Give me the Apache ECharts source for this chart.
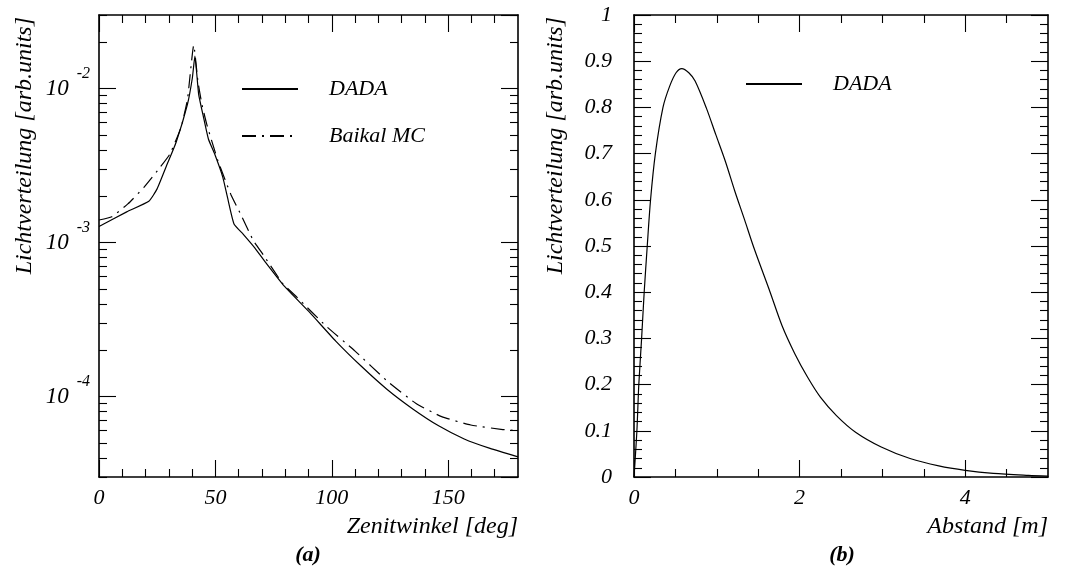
<!DOCTYPE html>
<html><head><meta charset="utf-8">
<script src="https://cdn.jsdelivr.net/npm/echarts@6/dist/echarts.min.js"></script>
<style>html,body{margin:0;padding:0;background:#fff}#c{width:1074px;height:570px}</style>
</head><body><div id="c"></div>
<script>
// ---------- Panel (a): Zenitwinkel [deg] vs Lichtverteilung (log) ----------
const dadaZenit = [
  [0, 1.27e-3], [11.9, 1.58e-3], [21.4, 1.85e-3], [24.9, 2.22e-3], [29.0, 3.15e-3],
  [33.1, 4.46e-3], [38.0, 7.9e-3], [40.1, 1.17e-2], [41.2, 1.62e-2], [42.8, 9.2e-3],
  [44.9, 6.5e-3], [47.0, 4.7e-3], [49.7, 3.75e-3], [53.2, 2.65e-3], [55.2, 1.96e-3],
  [58.0, 1.32e-3], [62.0, 1.13e-3], [67.0, 9.2e-4], [71.3, 7.5e-4], [79.6, 5.2e-4],
  [90.6, 3.5e-4], [101.7, 2.29e-4], [112.7, 1.57e-4], [123.8, 1.11e-4], [134.8, 8.3e-5],
  [145.9, 6.45e-5], [156.9, 5.3e-5], [168.0, 4.6e-5], [180.0, 4.05e-5]
];
const baikalZenit = [
  [0, 1.40e-3], [5.5, 1.47e-3], [12.4, 1.78e-3], [19.3, 2.28e-3], [26.2, 3.07e-3],
  [30.4, 3.74e-3], [35.2, 5.57e-3], [38.0, 8.5e-3], [40.7, 1.91e-2], [42.5, 1.11e-2],
  [44.2, 7.9e-3], [46.3, 5.85e-3], [51.1, 3.39e-3], [56.6, 2.06e-3], [60.8, 1.53e-3],
  [66.3, 1.03e-3], [70.6, 8.3e-4], [79.0, 5.4e-4], [85.1, 4.4e-4], [97.5, 2.87e-4],
  [110.0, 1.97e-4], [123.8, 1.26e-4], [136.2, 9.0e-5], [147.2, 7.4e-5], [159.7, 6.53e-5],
  [173.5, 6.1e-5], [180.0, 6.0e-5]
];
const zenitRange = [0, 180];
const zenitLabels = [0, 50, 100, 150];
const zenitMajor = [0, 50, 100, 150];
const zenitMinor = [10, 20, 30, 40, 60, 70, 80, 90, 110, 120, 130, 140, 160, 170];
const lichtARange = [3e-5, 3e-2];
const lichtAMantissas = [2, 3, 4, 5, 6, 7, 8, 9];
const lichtADecades = [-5, -4, -3, -2];

// ---------- Panel (b): Abstand [m] vs Lichtverteilung (linear) ----------
const dadaAbstand = [
  [0, 0], [0.035, 0.1], [0.058, 0.2], [0.092, 0.3], [0.123, 0.4], [0.16, 0.5],
  [0.2, 0.6], [0.258, 0.7], [0.35, 0.8], [0.431, 0.846], [0.508, 0.875], [0.577, 0.884],
  [0.662, 0.875], [0.738, 0.857], [0.873, 0.799], [0.988, 0.741], [1.104, 0.683],
  [1.219, 0.618], [1.335, 0.557], [1.45, 0.495], [1.642, 0.401], [1.787, 0.328],
  [1.942, 0.267], [2.097, 0.216], [2.251, 0.173], [2.445, 0.133], [2.676, 0.097],
  [2.986, 0.065], [3.334, 0.040], [3.681, 0.024], [4.0, 0.0144], [4.339, 0.0079],
  [4.764, 0.0036], [5.0, 0.002]
];
const abstandRange = [0, 5];
const abstandLabels = [0, 2, 4];
const abstandMajor = [0, 2, 4];
const abstandMinor = [0.5, 1, 1.5, 2.5, 3, 3.5, 4.5];
const lichtBRange = [0, 1];
const lichtBLabels = [0, 0.1, 0.2, 0.3, 0.4, 0.5, 0.6, 0.7, 0.8, 0.9, 1];
const lichtBMinorStep = 0.02;

const seriesNames = ['DADA', 'Baikal MC'];
const yName = 'Lichtverteilung [arb.units]';
const xNames = ['Zenitwinkel [deg]', 'Abstand [m]'];
const panelTitles = ['(a)', '(b)'];

// ---------- styling helpers ----------
const F = 'Liberation Serif';
const lab = { fontFamily: F, fontStyle: 'italic', fontSize: 22, color: '#000' };
const nameLab = { ...lab, fontSize: 24 };
const AX = '#000';
const line = (show) => ({ show, onZero: false, lineStyle: { color: AX, width: 1.6 } });
const ticks = (vals, len) => ({ show: true, inside: true, length: len, customValues: vals, lineStyle: { color: AX, width: 1.1 } });
const noLab = { show: false };

function xSet(g, range, major, minor, labels, name) {
  const base = { type: 'value', gridIndex: g, min: range[0], max: range[1], splitLine: { show: false } };
  return [
    { ...base, position: 'bottom', axisLine: line(true), axisTick: ticks(major, 17),
      axisLabel: { ...lab, show: true, customValues: labels, margin: 10 } },
    { ...base, position: 'bottom', axisLine: line(false), axisTick: ticks(minor, 8), axisLabel: noLab },
    { ...base, position: 'top', axisLine: line(true), axisTick: ticks(major, 17), axisLabel: noLab },
    { ...base, position: 'top', axisLine: line(false), axisTick: ticks(minor, 8), axisLabel: noLab },
    { ...base, position: 'bottom', offset: 50, axisLine: line(false), axisTick: { show: false }, axisLabel: noLab,
      name, nameLocation: 'end', nameGap: 0, nameMoveOverlap: false,
      nameTextStyle: { ...nameLab, align: 'right', verticalAlign: 'middle' } }
  ];
}

function nameAxis(g, offset) {
  return { type: 'value', gridIndex: g, position: 'left', offset, min: 0, max: 1,
    axisLine: line(false), axisTick: { show: false }, axisLabel: noLab, splitLine: { show: false },
    name: yName, nameLocation: 'end', nameRotate: 90, nameGap: -2, nameMoveOverlap: false,
    nameTextStyle: { ...nameLab, align: 'right', verticalAlign: 'middle' } };
}

// log-axis minor ticks (positions in log10 space on helper value axes)
const logMinor = [];
lichtADecades.forEach(e => lichtAMantissas.forEach(m => {
  const v = m * Math.pow(10, e);
  if (v > lichtARange[0] * 0.999 && v < lichtARange[1] * 1.001) logMinor.push(Math.log10(v));
}));
const lmin = Math.log10(lichtARange[0]), lmax = Math.log10(lichtARange[1]);

const logBase = { type: 'log', logBase: 10, gridIndex: 0, min: lichtARange[0], max: lichtARange[1], splitLine: { show: false } };
const linBase = { type: 'value', gridIndex: 0, min: lmin, max: lmax, splitLine: { show: false } };
const majorTickLog = { show: true, inside: true, length: 17, lineStyle: { color: AX, width: 1.1 } };
const supFmt = (v) => {
  const l = Math.log10(v), e = Math.round(l);
  if (Math.abs(l - e) > 0.01) return '';
  return '{b|10}{s|' + e + '}';
};
const yA = [
  { ...logBase, position: 'left', axisLine: line(true), axisTick: majorTickLog,
    axisLabel: { show: true, showMinLabel: false, showMaxLabel: false, margin: 9, formatter: supFmt,
      rich: {
        b: { fontFamily: F, fontStyle: 'italic', fontSize: 23, color: '#000', verticalAlign: 'middle' },
        s: { fontFamily: F, fontStyle: 'italic', fontSize: 16, color: '#000', verticalAlign: 'top', padding: [0, 0, 30, 8] }
      } } },
  { ...linBase, position: 'left', axisLine: line(false), axisTick: ticks(logMinor, 8), axisLabel: noLab },
  { ...logBase, position: 'right', axisLine: line(true), axisTick: majorTickLog, axisLabel: noLab },
  { ...linBase, position: 'right', axisLine: line(false), axisTick: ticks(logMinor, 8), axisLabel: noLab },
  nameAxis(0, 74)
];

const bMinor = [];
for (let i = 1; i * lichtBMinorStep < 1; i++) if (i % 5) bMinor.push(+(i * lichtBMinorStep).toFixed(2));
const linB = { type: 'value', gridIndex: 1, min: lichtBRange[0], max: lichtBRange[1], splitLine: { show: false } };
const yB = [
  { ...linB, position: 'left', axisLine: line(true), axisTick: ticks(lichtBLabels, 17),
    axisLabel: { ...lab, show: true, customValues: lichtBLabels, margin: 22 } },
  { ...linB, position: 'left', axisLine: line(false), axisTick: ticks(bMinor, 8), axisLabel: noLab },
  { ...linB, position: 'right', axisLine: line(true), axisTick: ticks(lichtBLabels, 17), axisLabel: noLab },
  { ...linB, position: 'right', axisLine: line(false), axisTick: ticks(bMinor, 8), axisLabel: noLab },
  nameAxis(1, 78)
];

const lineSeries = (name, data, xi, yi, type, smooth) => ({
  type: 'line', name, data, xAxisIndex: xi, yAxisIndex: yi, symbol: 'none', showSymbol: false,
  smooth, animation: false,
  lineStyle: { color: '#000', width: 1.2, type }, itemStyle: { color: '#000' }
});

const legendBase = {
  orient: 'vertical', itemWidth: 56, itemHeight: 14, itemGap: 25, selectedMode: false,
  padding: 0, textStyle: { ...lab, padding: [0, 0, 0, 26] },
  itemStyle: { opacity: 0, color: 'rgba(0,0,0,0)', borderWidth: 0 }
};

const option = {
  backgroundColor: '#fff',
  animation: false,
  textStyle: { fontFamily: F },
  grid: [
    { left: 99, top: 15, width: 419, height: 462, outerBoundsMode: 'none', containLabel: false },
    { left: 634, top: 15, width: 414, height: 462, outerBoundsMode: 'none', containLabel: false }
  ],
  title: [
    { text: panelTitles[0], left: 308, top: 544, textAlign: 'center', padding: 0,
      textStyle: { fontFamily: F, fontStyle: 'italic', fontWeight: 'bold', fontSize: 22, color: '#000' } },
    { text: panelTitles[1], left: 842, top: 544, textAlign: 'center', padding: 0,
      textStyle: { fontFamily: F, fontStyle: 'italic', fontWeight: 'bold', fontSize: 22, color: '#000' } }
  ],
  legend: [
    { ...legendBase, data: seriesNames, left: 241, top: 78 },
    { ...legendBase, data: [seriesNames[0]], left: 745, top: 73 }
  ],
  xAxis: [
    ...xSet(0, zenitRange, zenitMajor, zenitMinor, zenitLabels, xNames[0]),
    ...xSet(1, abstandRange, abstandMajor, abstandMinor, abstandLabels, xNames[1])
  ],
  yAxis: [...yA, ...yB],
  series: [
    lineSeries(seriesNames[0], dadaZenit, 0, 0, 'solid', 0.15),
    lineSeries(seriesNames[1], baikalZenit, 0, 0, [14, 6, 2, 6], 0.15),
    lineSeries(seriesNames[0], dadaAbstand, 5, 5, 'solid', 0.3)
  ]
};

const chart = echarts.init(document.getElementById('c'), null, { renderer: 'canvas' });
chart.setOption(option);
</script>
</body></html>
